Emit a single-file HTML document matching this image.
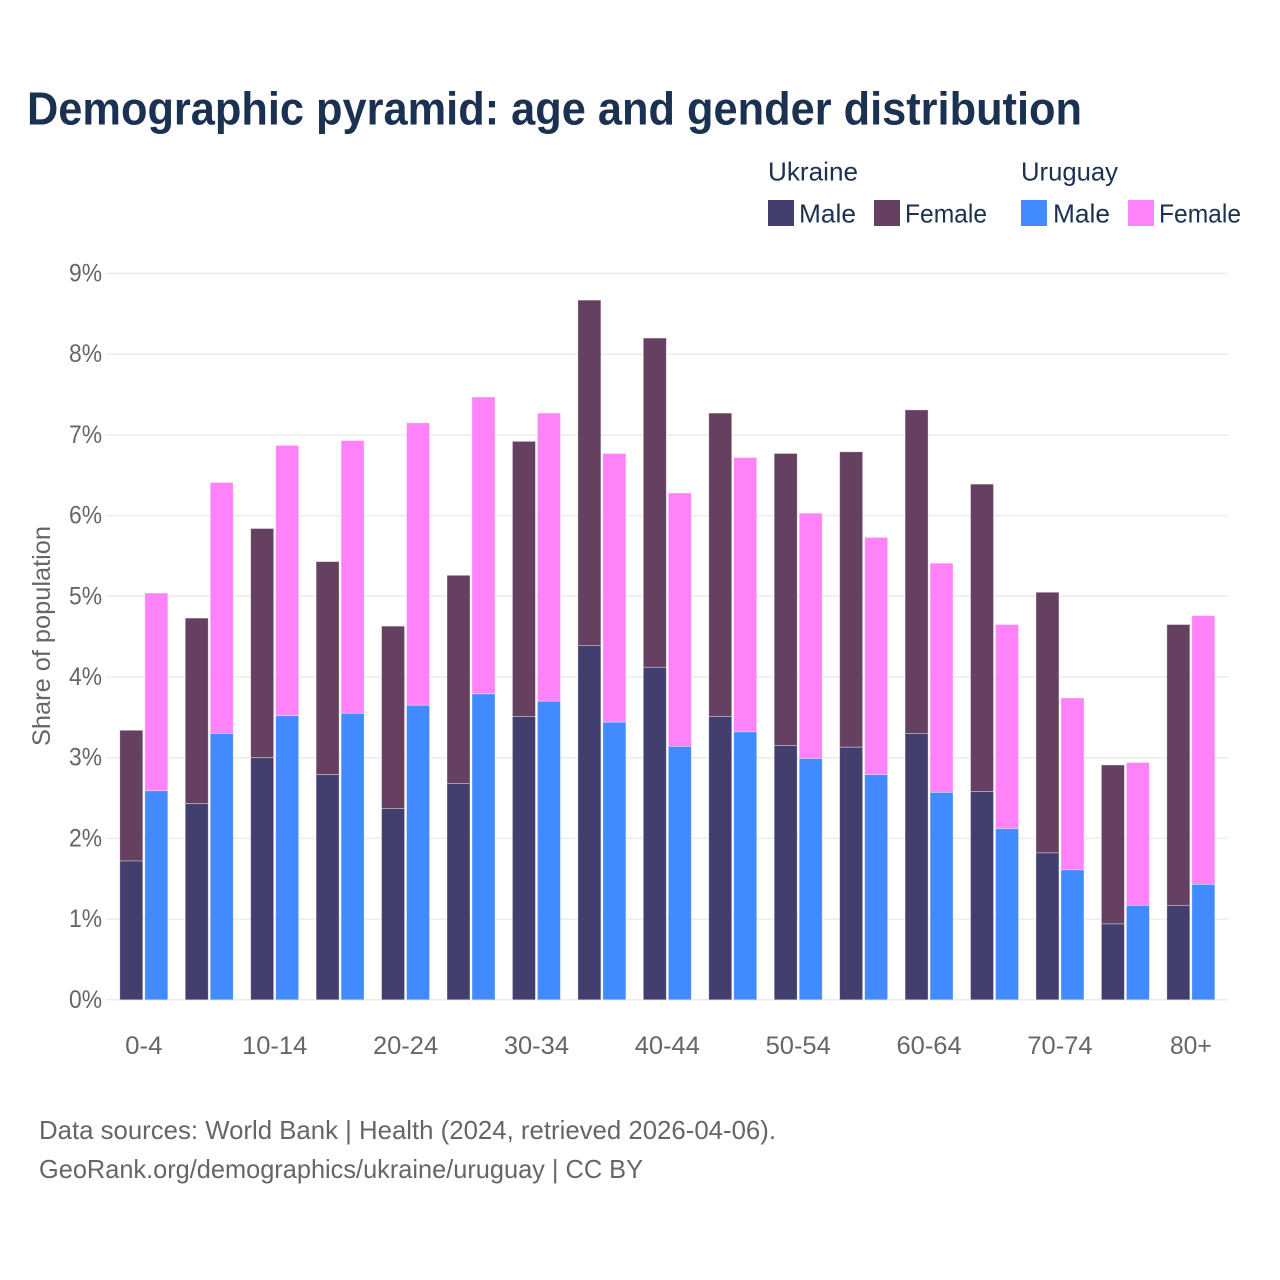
<!DOCTYPE html>
<html lang="en">
<head>
<meta charset="utf-8">
<title>Demographic pyramid: age and gender distribution</title>
<style>
html,body{margin:0;padding:0;background:#fff;width:1280px;height:1280px;overflow:hidden}
svg{display:block}
text{font-family:"Liberation Sans",sans-serif}
</style>
</head>
<body>
<svg id="chart" xmlns="http://www.w3.org/2000/svg" width="1280" height="1280" viewBox="0 0 1280 1280">
  <rect x="0" y="0" width="1280" height="1280" fill="#fff"/>
  <text x="27" y="124.5" font-size="46" font-weight="700" fill="#1a3152" textLength="1055" lengthAdjust="spacingAndGlyphs">Demographic pyramid: age and gender distribution</text>

  <g fill="#1a3152" font-size="26">
    <text x="768" y="180.5" textLength="90" lengthAdjust="spacingAndGlyphs">Ukraine</text>
    <rect x="768" y="200" width="26" height="26" fill="#423f6f"/>
    <text x="799" y="222.5" textLength="57" lengthAdjust="spacingAndGlyphs">Male</text>
    <rect x="874" y="200" width="26" height="26" fill="#664060"/>
    <text x="905" y="222.5" textLength="82" lengthAdjust="spacingAndGlyphs">Female</text>
    <text x="1021" y="180.5" textLength="97" lengthAdjust="spacingAndGlyphs">Uruguay</text>
    <rect x="1021" y="200" width="26" height="26" fill="#418aff"/>
    <text x="1053" y="222.5" textLength="57" lengthAdjust="spacingAndGlyphs">Male</text>
    <rect x="1128" y="200" width="26" height="26" fill="#ff82f8"/>
    <text x="1159" y="222.5" textLength="82" lengthAdjust="spacingAndGlyphs">Female</text>
  </g>

  <g id="grid"></g>
  <g id="y-ticks"></g>
  <g id="bars"></g>
  <g id="x-ticks"></g>

  <text transform="translate(50,636) rotate(-90)" text-anchor="middle" font-size="25" fill="#666" textLength="220" lengthAdjust="spacingAndGlyphs">Share of population</text>

  <text x="39" y="1139" font-size="26" fill="#666" textLength="737" lengthAdjust="spacingAndGlyphs">Data sources: World Bank | Health (2024, retrieved 2026-04-06).</text>
  <text x="39" y="1178" font-size="26" fill="#666" textLength="604" lengthAdjust="spacingAndGlyphs">GeoRank.org/demographics/ukraine/uruguay | CC BY</text>
</svg>
<script>
const categories = ['0-4','5-9','10-14','15-19','20-24','25-29','30-34','35-39','40-44','45-49','50-54','55-59','60-64','65-69','70-74','75-79','80+'];
const xTickLabels = ['0-4','10-14','20-24','30-34','40-44','50-54','60-64','70-74','80+'];
const yTickValues = [0,1,2,3,4,5,6,7,8,9];
const ukraineMale = [1.72,2.43,3.00,2.79,2.37,2.68,3.51,4.39,4.12,3.51,3.15,3.13,3.30,2.58,1.82,0.94,1.17];
const ukraineFemale = [1.62,2.30,2.84,2.64,2.26,2.58,3.41,4.28,4.08,3.76,3.62,3.66,4.01,3.81,3.23,1.97,3.48];
const uruguayMale = [2.59,3.30,3.52,3.55,3.65,3.79,3.70,3.44,3.14,3.32,2.99,2.79,2.57,2.12,1.61,1.17,1.43];
const uruguayFemale = [2.45,3.11,3.35,3.38,3.50,3.68,3.57,3.33,3.14,3.40,3.04,2.94,2.84,2.53,2.13,1.77,3.33];

const NS = 'http://www.w3.org/2000/svg';
const yZero = 999.8;
const pxPerUnit = 80.7;
const groupStart = 119.8;
const groupStep = 65.44;
const barWidth = 23;
const barOffset = 25;

function yScale(v) { return yZero - v * pxPerUnit; }
function xScale(i) { return groupStart + i * groupStep; }
function slug(s) { return s.replace(/[^a-zA-Z0-9]+/g, '-'); }
function labelWidth(t) {
  let w = 0;
  for (const ch of t) { w += ch === '-' ? 9.6 : 13.9; }
  return w;
}

const gridLayer = document.getElementById('grid');
const yLayer = document.getElementById('y-ticks');
yTickValues.forEach(function (v) {
  const line = document.createElementNS(NS, 'line');
  
  
  line.setAttribute('x1', 106);
  line.setAttribute('x2', 1228);
  line.setAttribute('y1', yScale(v));
  line.setAttribute('y2', yScale(v));
  line.setAttribute('stroke', '#ececef');
  line.setAttribute('stroke-width', 1.5);
  gridLayer.appendChild(line);

  const label = document.createElementNS(NS, 'text');
  
  
  label.setAttribute('x', 102);
  label.setAttribute('y', yScale(v) + 8);
  label.setAttribute('text-anchor', 'end');
  label.setAttribute('font-size', 25);
  label.setAttribute('fill', '#666');
  label.setAttribute('textLength', 33);
  label.setAttribute('lengthAdjust', 'spacingAndGlyphs');
  label.textContent = v + '%';
  yLayer.appendChild(label);
});

const barLayer = document.getElementById('bars');
function drawSegment(name, i, offset, base, value, color, edge) {
  const rect = document.createElementNS(NS, 'rect');
  
  
  rect.setAttribute('x', xScale(i) + offset);
  rect.setAttribute('y', yScale(base + value));
  rect.setAttribute('width', barWidth);
  rect.setAttribute('height', value * pxPerUnit);
  rect.setAttribute('fill', color);
  rect.setAttribute('stroke', edge);
  rect.setAttribute('stroke-width', 0.8);
  barLayer.appendChild(rect);
}
categories.forEach(function (c, i) {
  drawSegment('bar-ukraine-female', i, 0, ukraineMale[i], ukraineFemale[i], '#664060', 'rgba(255,255,255,0.45)');
  drawSegment('bar-ukraine-male', i, 0, 0, ukraineMale[i], '#423f6f', 'rgba(255,255,255,0.45)');
  drawSegment('bar-uruguay-female', i, barOffset, uruguayMale[i], uruguayFemale[i], '#ff82f8', 'rgba(255,255,255,0.45)');
  drawSegment('bar-uruguay-male', i, barOffset, 0, uruguayMale[i], '#418aff', 'rgba(255,255,255,0.45)');
});

const xLayer = document.getElementById('x-ticks');
xTickLabels.forEach(function (t) {
  const i = categories.indexOf(t);
  const label = document.createElementNS(NS, 'text');
  
  
  label.setAttribute('x', xScale(i) + 24);
  label.setAttribute('y', 1054);
  label.setAttribute('text-anchor', 'middle');
  label.setAttribute('font-size', 25);
  label.setAttribute('fill', '#666');
  label.setAttribute('textLength', labelWidth(t));
  label.setAttribute('lengthAdjust', 'spacingAndGlyphs');
  label.textContent = t;
  xLayer.appendChild(label);
});
</script>
</body>
</html>
